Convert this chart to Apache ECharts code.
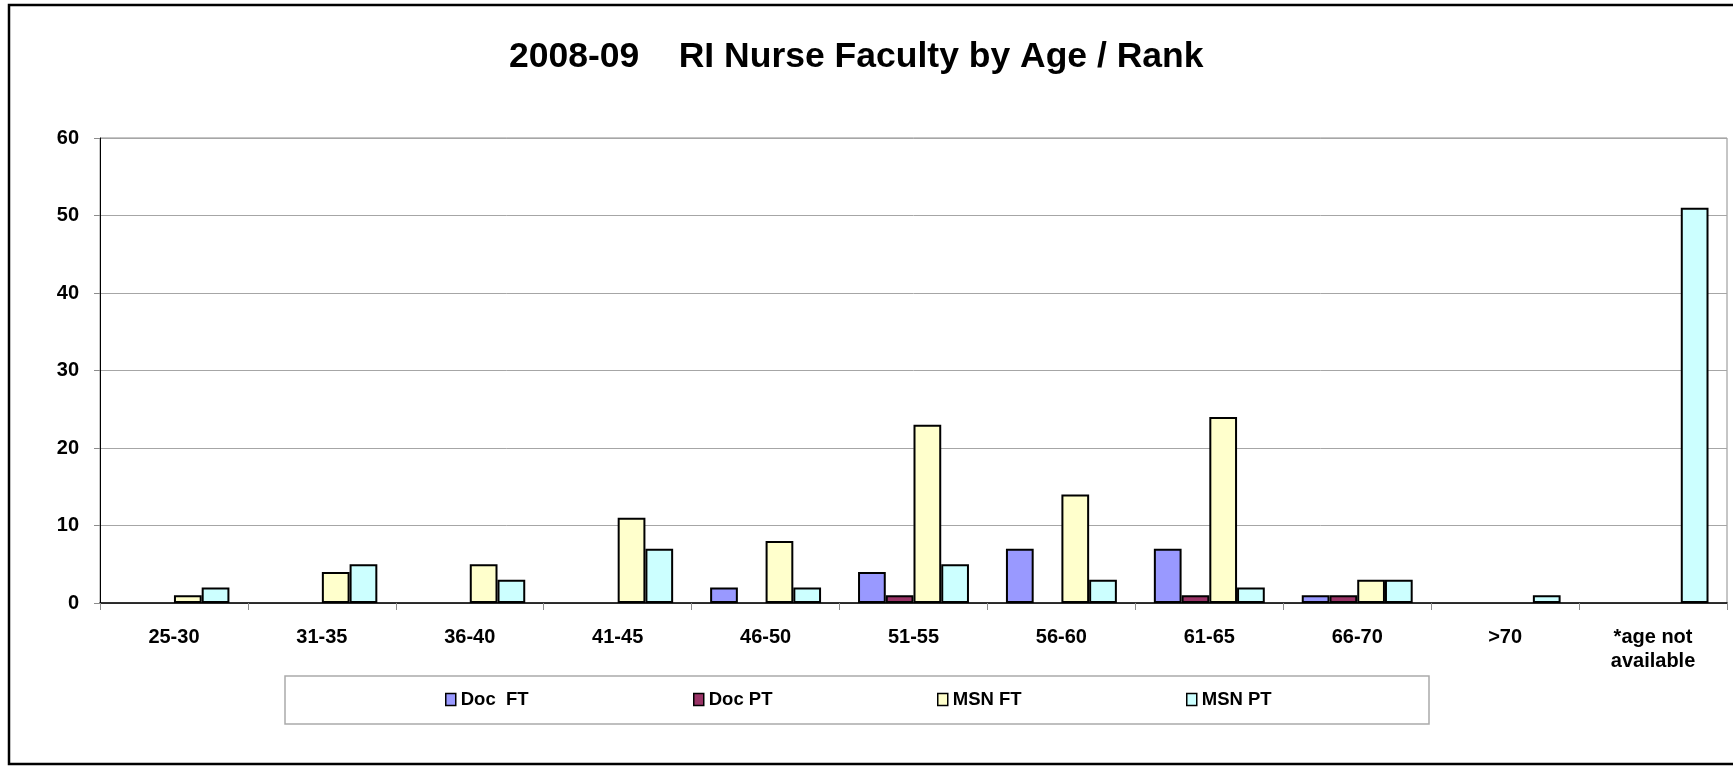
<!DOCTYPE html>
<html>
<head>
<meta charset="utf-8">
<title>2008-09 RI Nurse Faculty by Age / Rank</title>
<script src="https://cdn.jsdelivr.net/npm/echarts@6/dist/echarts.min.js"></script>
<style>
  html, body { margin: 0; padding: 0; background: #fff; }
  #chart { width: 1733px; height: 766px; }
</style>
</head>
<body>
<div id="chart"></div>
<script>
// categories + series
const ageGroups = ['25-30', '31-35', '36-40', '41-45', '46-50', '51-55', '56-60', '61-65', '66-70', '>70', '*age not\navailable'];
const docFT = [0, 0, 0, 0, 2, 4, 7, 7, 1, 0, 0];
const docPT = [0, 0, 0, 0, 0, 1, 0, 1, 1, 0, 0];
const msnFT = [1, 4, 5, 11, 8, 23, 14, 24, 3, 0, 0];
const msnPT = [2, 5, 3, 7, 2, 5, 3, 2, 3, 1, 51];
const yTicks = [0, 10, 20, 30, 40, 50, 60];

const seriesNames = ['Doc  FT', 'Doc PT', 'MSN FT', 'MSN PT'];
const seriesColors = ['#9999FF', '#993366', '#FFFFCC', '#CCFFFF'];
const seriesData = [docFT, docPT, msnFT, msnPT];
// legend entries sit at fixed x positions inside the box
const legendLeft = [445, 693, 937, 1186];

const font = '"Liberation Sans", Arial, sans-serif';

const chart = echarts.init(document.getElementById('chart'));

// zero bars are not drawn in the original
const series = seriesData.map((vals, i) => ({
  name: seriesNames[i],
  type: 'bar',
  data: vals.map(v => (v === 0 ? '-' : v)),
  barGap: '0%',
  barCategoryGap: '25%',
  itemStyle: {
    color: seriesColors[i],
    borderColor: '#000',
    borderWidth: 2
  },
  animation: false
}));

const legends = seriesNames.map((name, i) => ({
  data: [name],
  left: legendLeft[i],
  top: 690,
  padding: 0,
  itemWidth: 10,
  itemHeight: 12,
  icon: 'rect',
  textStyle: { fontFamily: font, fontSize: 18.5, fontWeight: 'bold', color: '#000' },
  itemStyle: { borderColor: '#000', borderWidth: 1.5 }
}));

const option = {
  backgroundColor: '#fff',
  title: {
    text: '2008-09    RI Nurse Faculty by Age / Rank',
    left: 509,
    top: 39,
    padding: 0,
    textStyle: { fontFamily: font, fontSize: 35.5, fontWeight: 'bold', color: '#000' }
  },
  legend: legends,
  grid: {
    left: 100,
    right: 6,
    top: 138,
    bottom: 163,
    show: true,
    borderColor: '#8c8c8c',
    borderWidth: 1
  },
  xAxis: {
    type: 'category',
    data: ageGroups,
    axisLine: { lineStyle: { color: '#000', width: 1.5 } },
    axisTick: { show: true, length: 7, lineStyle: { color: '#8c8c8c' } },
    axisLabel: {
      interval: 0,
      margin: 22,
      lineHeight: 24,
      fontFamily: font, fontSize: 20, fontWeight: 'bold', color: '#000'
    }
  },
  yAxis: {
    type: 'value',
    min: yTicks[0],
    max: yTicks[yTicks.length - 1],
    interval: 10,
    axisLine: { show: true, lineStyle: { color: '#000', width: 1 } },
    axisTick: { show: true, length: 6, lineStyle: { color: '#8c8c8c' } },
    splitLine: { lineStyle: { color: '#a6a6a6', width: 1 } },
    axisLabel: { margin: 21, fontFamily: font, fontSize: 20, fontWeight: 'bold', color: '#000' }
  },
  graphic: [
    {
      type: 'rect',
      silent: true,
      z: -1,
      shape: { x: 9, y: 5, width: 1740, height: 759 },
      style: { fill: 'none', stroke: '#000', lineWidth: 2.5 }
    },
    {
      type: 'rect',
      silent: true,
      z: -1,
      shape: { x: 285, y: 676, width: 1144, height: 48 },
      style: { fill: '#fff', stroke: '#aaaaaa', lineWidth: 1.5 }
    }
  ],
  series: series
};

chart.setOption(option);
</script>
</body>
</html>
